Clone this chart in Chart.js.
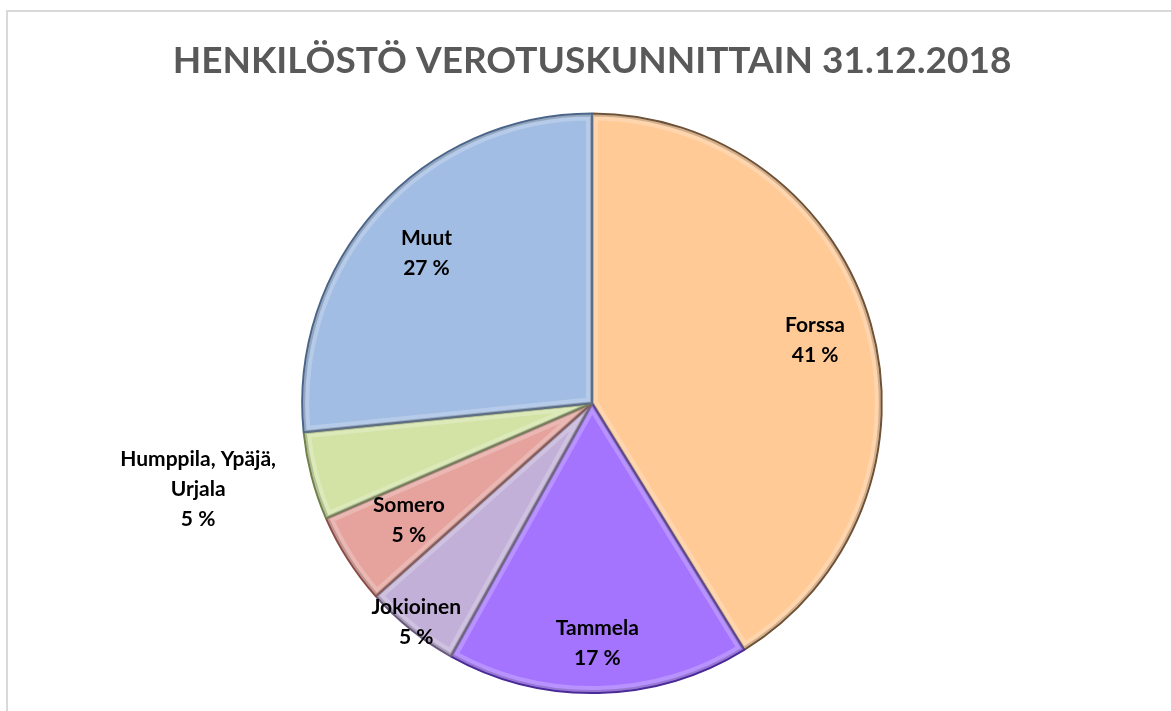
<!DOCTYPE html>
<html>
<head>
<meta charset="utf-8">
<script src="https://cdn.jsdelivr.net/npm/chart.js@4"></script>
<style>
  html, body { margin: 0; padding: 0; background: #fff; overflow: hidden; }
  #kehys { position: absolute; left: 6px; top: 10px; width: 1300px; height: 800px;
           border-left: 2px solid #d9d9d9; border-top: 2px solid #d9d9d9; }
  #alue { position: absolute; left: 0; top: 0; width: 1171px; height: 711px; }
</style>
</head>
<body>
<div id="kehys"></div>
<div id="alue"><canvas id="piirakka"></canvas></div>
<script>
// Henkilöstö verotuskunnittain 31.12.2018
const kunnat = ['Forssa', 'Tammela', 'Jokioinen', 'Somero', 'Humppila, Ypäjä, Urjala', 'Muut'];
const osuudet = [41.2, 16.9, 5.3, 5.1, 4.9, 26.6];
const varit = ['#FFCA96', '#A474FF', '#C2B0D8', '#E6A39D', '#D3E3A6', '#A2BDE3'];
const reunat = ['#6e5238', '#4a2a98', '#6a5a80', '#8a4a45', '#6f8048', '#4a6589'];

// nimiön sijainti säteen osuutena (null = ulkopuolella)
const nimiSade = [0.80, 0.83, 0.97, 0.75, null, 0.77];
const nimiRivit = [['Forssa'], ['Tammela'], ['Jokioinen'], ['Somero'], ['Humppila, Ypäjä,', 'Urjala'], ['Muut']];

// viistetty reuna: vaalea kaista sisäreunalla
const viiste = {
  id: 'viiste',
  afterDatasetsDraw(chart) {
    const c = chart.ctx;
    chart.getDatasetMeta(0).data.forEach(kaari => {
      const p = kaari.getProps(['x', 'y', 'startAngle', 'endAngle', 'outerRadius']);
      const polku = () => {
        c.beginPath();
        c.moveTo(p.x, p.y);
        c.arc(p.x, p.y, p.outerRadius - 1, p.startAngle, p.endAngle);
        c.closePath();
      };
      c.save();
      polku();
      c.clip();
      polku();
      c.lineJoin = 'miter';
      c.lineWidth = 12;
      c.strokeStyle = 'rgba(255,255,255,0.22)';
      c.stroke();
      c.lineWidth = 4;
      c.strokeStyle = 'rgba(0,0,0,0.18)';
      c.stroke();
      c.restore();
    });
  }
};

const nimiot = {
  id: 'nimiot',
  afterDatasetsDraw(chart) {
    const c = chart.ctx;
    const kaaret = chart.getDatasetMeta(0).data;
    c.save();
    c.font = 'bold 21px Lato';
    c.fillStyle = '#000';
    c.textAlign = 'center';
    c.textBaseline = 'middle';
    kaaret.forEach((kaari, i) => {
      const p = kaari.getProps(['x', 'y', 'startAngle', 'endAngle', 'outerRadius']);
      const kulma = (p.startAngle + p.endAngle) / 2;
      const rivit = nimiRivit[i].concat([Math.round(osuudet[i]) + ' %']);
      const rivivali = 30;
      let cx, cy;
      if (nimiSade[i] === null) {
        const ax = p.x + Math.cos(kulma) * (p.outerRadius + 14);
        const ay = p.y + Math.sin(kulma) * (p.outerRadius + 14);
        const lev = Math.max(...rivit.map(r => c.measureText(r).width));
        cx = ax - lev / 2 - 22;
        cy = ay + 10;
      } else {
        cx = p.x + Math.cos(kulma) * p.outerRadius * nimiSade[i];
        cy = p.y + Math.sin(kulma) * p.outerRadius * nimiSade[i];
      }
      const y0 = cy - (rivit.length - 1) * rivivali / 2;
      rivit.forEach((r, j) => c.fillText(r, cx, y0 + j * rivivali));
    });
    c.restore();
  }
};

const ctx = document.getElementById('piirakka').getContext('2d');
new Chart(ctx, {
  type: 'pie',
  data: {
    labels: kunnat,
    datasets: [{
      data: osuudet,
      backgroundColor: varit,
      borderColor: reunat,
      borderWidth: 2
    }]
  },
  options: {
    responsive: true,
    maintainAspectRatio: false,
    animation: false,
    layout: { padding: { left: 13, right: 0, top: 0, bottom: 17 } },
    plugins: {
      legend: { display: false },
      tooltip: { enabled: false },
      title: {
        display: true,
        text: 'HENKILÖSTÖ VEROTUSKUNNITTAIN 31.12.2018',
        color: '#595959',
        font: { family: 'Lato', size: 37, weight: 'bold' },
        padding: { top: 39, bottom: 29 }
      }
    }
  },
  plugins: [viiste, nimiot]
});
</script>
</body>
</html>
